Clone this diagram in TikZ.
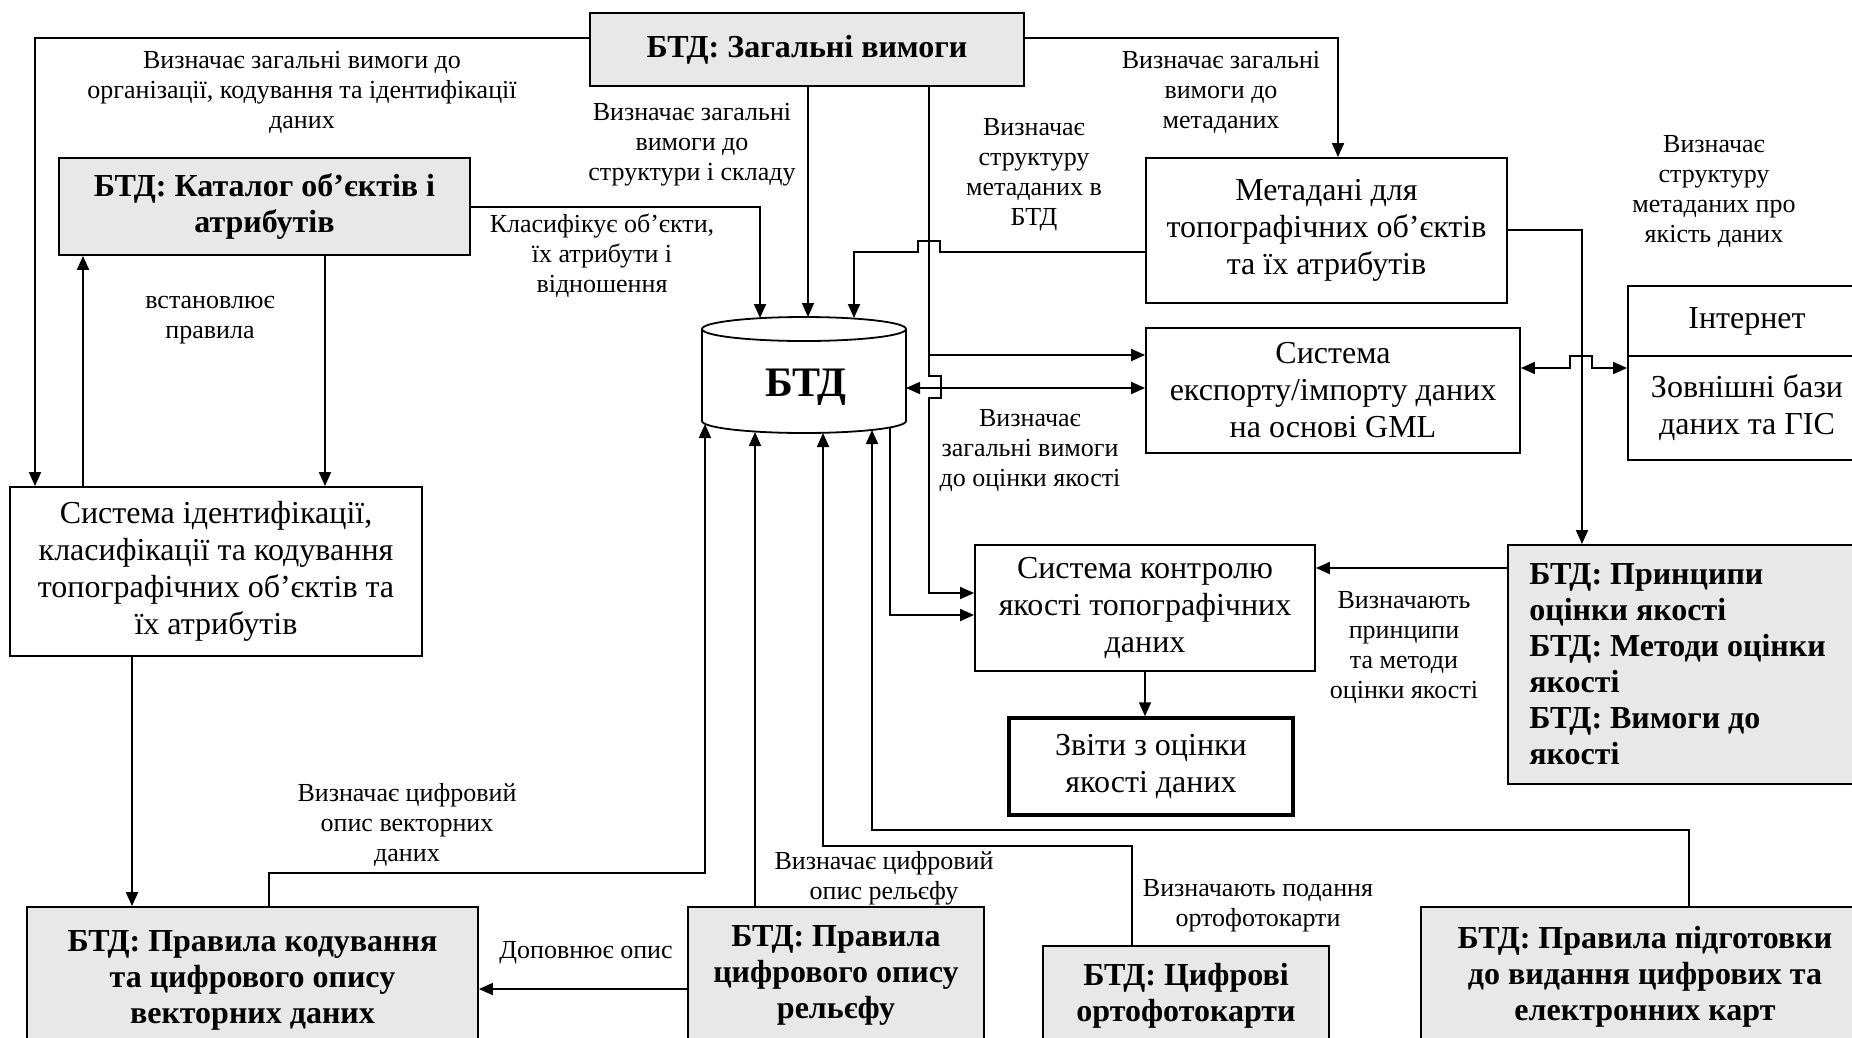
\documentclass[tikz,border=0pt]{standalone}
\usepackage{fontspec}
\setmainfont{Liberation Serif}
\usetikzlibrary{arrows.meta,calc}
\tikzset{
 conn/.style={line width=1.8pt},
 arr/.style={conn,-{Triangle[length=14pt,width=12pt]}},
 darr/.style={conn,{Triangle[length=14pt,width=12pt]}-{Triangle[length=14pt,width=12pt]}},
 box/.style={draw,line width=1.8pt,align=center,inner sep=4pt,font=\fontsize{32}{37}\selectfont},
 gbox/.style={box,fill=black!9,font=\fontsize{32}{36}\selectfont\bfseries},
 lbl/.style={align=center,inner sep=0pt,font=\fontsize{26}{30}\selectfont},
}
\begin{document}
\begin{tikzpicture}[x=1pt,y=-1pt]
\clip (0,0) rectangle (1852,1037);
\fill[white] (0,0) rectangle (1852,1037);

% boxes
\node[gbox,minimum width=434pt,minimum height=73pt] (top) at (807,49.5) {БТД: Загальні вимоги};
\node[gbox,minimum width=411pt,minimum height=97pt] (kat) at (264.5,206.5) {БТД: Каталог об’єктів і\\атрибутів};
\node[box,minimum width=412pt,minimum height=169pt] (sysid) at (216,571.5) {Система ідентифікації,\\класифікації та кодування\\топографічних об’єктів та\\їх атрибутів};
\node[box,minimum width=361pt,minimum height=145pt] (meta) at (1326.5,230.5) {Метадані для\\топографічних об’єктів\\та їх атрибутів};
\node[box,minimum width=374pt,minimum height=125pt] (export) at (1333,390.5) {Система\\експорту/імпорту даних\\на основі GML};
\node[box,minimum width=238pt,minimum height=70pt] (inet) at (1747,321) {Інтернет};
\node[box,minimum width=238pt,minimum height=104pt] (extdb) at (1747,408) {Зовнішні бази\\даних та ГІС};
\node[gbox,anchor=north west,minimum width=363pt,minimum height=239pt,align=flush left,text width=320pt,inner xsep=20pt] (princ) at (1507,544) {БТД: Принципи\\оцінки якості\\БТД: Методи оцінки\\якості\\БТД: Вимоги до\\якості};
\node[box,minimum width=340pt,minimum height=126pt] (ctrl) at (1145,608) {Система контролю\\якості топографічних\\даних};
\node[box,line width=3.5pt,minimum width=284pt,minimum height=97pt] (rep) at (1151,766.5) {Звіти з оцінки\\якості даних};
\node[gbox,minimum width=451pt,minimum height=146pt] (kod) at (252.5,980) {БТД: Правила кодування\\та цифрового опису\\векторних даних};
\node[gbox,minimum width=296pt,minimum height=136pt] (rel) at (836,975) {БТД: Правила\\цифрового опису\\рельєфу};
\node[gbox,minimum width=286pt,minimum height=100pt] (ortho) at (1186,996) {БТД: Цифрові\\ортофотокарти};
\node[gbox,minimum width=448pt,minimum height=140pt] (prep) at (1645,977) {БТД: Правила підготовки\\до видання цифрових та\\електронних карт};

% cylinder
\draw[line width=1.8pt,fill=white] (702,329) -- (702,421) arc[start angle=180,end angle=360,x radius=102pt,y radius=12pt] -- (906,329);
\draw[line width=1.8pt] (804,329) ellipse [x radius=102pt,y radius=12pt];
\node[inner sep=0pt,font=\fontsize{42}{44}\selectfont\bfseries] (btd) at (806,387) {БТД};
\coordinate (cTa) at (760,318);
\coordinate (cTb) at (808,317);
\coordinate (cTc) at (854,318);
\coordinate (cE) at (906,388);
\coordinate (cBa) at (705,424);
\coordinate (cBb) at (755,432);
\coordinate (cBc) at (823,433);
\coordinate (cBd) at (872,430);
\coordinate (cBf) at (890,428);

% connectors
\draw[arr] (top.west |- 0,38) -| (35,0 |- sysid.north);
\draw[arr] (83,0 |- sysid.north) -- (83,0 |- kat.south);
\draw[arr] (325,0 |- kat.south) -- (325,0 |- sysid.north);
\draw[arr] (kat.east |- 0,207) -| (cTa);
\draw[arr] (808,0 |- top.south) -- (cTb);
\draw[arr] (meta.west |- 0,252) -- (940,252) -- (940,241) -- (918,241) -- (918,252) -| (cTc);
\draw[arr] (top.east |- 0,38) -| (1338,0 |- meta.north);
\draw[arr] (929,0 |- top.south) -- (929,355) -- (export.west |- 0,355);
\draw[arr] (929,355) -- (929,376) -- (941,376) -- (941,398) -- (929,398) -- (929,593) -- (ctrl.west |- 0,593);
\draw[darr] (cE) -- (export.west |- cE);
\draw[arr] (meta.east |- 0,230) -| (1582,0 |- princ.north);
\draw[darr] (export.east |- 0,368) -- (1570,368) -- (1570,356) -- (1592,356) -- (1592,368) -- (extdb.west |- 0,368);
\draw[arr] (princ.west |- 0,568) -- (ctrl.east |- 0,568);
\draw[arr] (1145,0 |- ctrl.south) -- (1145,0 |- rep.north);
\draw[arr] (cBf) -- (890,615) -- (ctrl.west |- 0,615);
\draw[arr] (132,0 |- sysid.south) -- (132,0 |- kod.north);
\draw[arr] (269,0 |- kod.north) |- (705,873) -- (cBa);
\draw[arr] (755,0 |- rel.north) -- (cBb);
\draw[arr] (1132,0 |- ortho.north) |- (823,846) -- (cBc);
\draw[arr] (1689,0 |- prep.north) |- (872,830) -- (cBd);
\draw[arr] (rel.west |- 0,989) -- (kod.east |- 0,989);

% labels
\node[lbl] (l1) at (302,92) {Визначає загальні вимоги до\\організації, кодування та ідентифікації\\даних};
\node[lbl] (l2) at (210,320) {встановлює\\правила};
\node[lbl] (l3) at (602,256) {Класифікує об’єкти,\\їх атрибути і\\відношення};
\node[lbl] (l4) at (692,145) {Визначає загальні\\вимоги до\\структури і складу};
\node[lbl] (l5) at (1034,175) {Визначає\\структуру\\метаданих в\\БТД};
\node[lbl] (l6) at (1221,92) {Визначає загальні\\вимоги до\\метаданих};
\node[lbl] (l7) at (1714,191) {Визначає\\структуру\\метаданих про\\якість даних};
\node[lbl] (l8) at (1030,450) {Визначає\\загальні вимоги\\до оцінки якості};
\node[lbl] (l9) at (1404,647) {Визначають\\принципи\\та методи\\оцінки якості};
\node[lbl] (l10) at (407,825) {Визначає цифровий\\опис векторних\\даних};
\node[lbl] (l11) at (884,878) {Визначає цифровий\\опис рельєфу};
\node[lbl] (l12) at (1258,906) {Визначають подання\\ортофотокарти};
\node[lbl] (l13) at (586,953) {Доповнює опис};
\end{tikzpicture}
\end{document}
